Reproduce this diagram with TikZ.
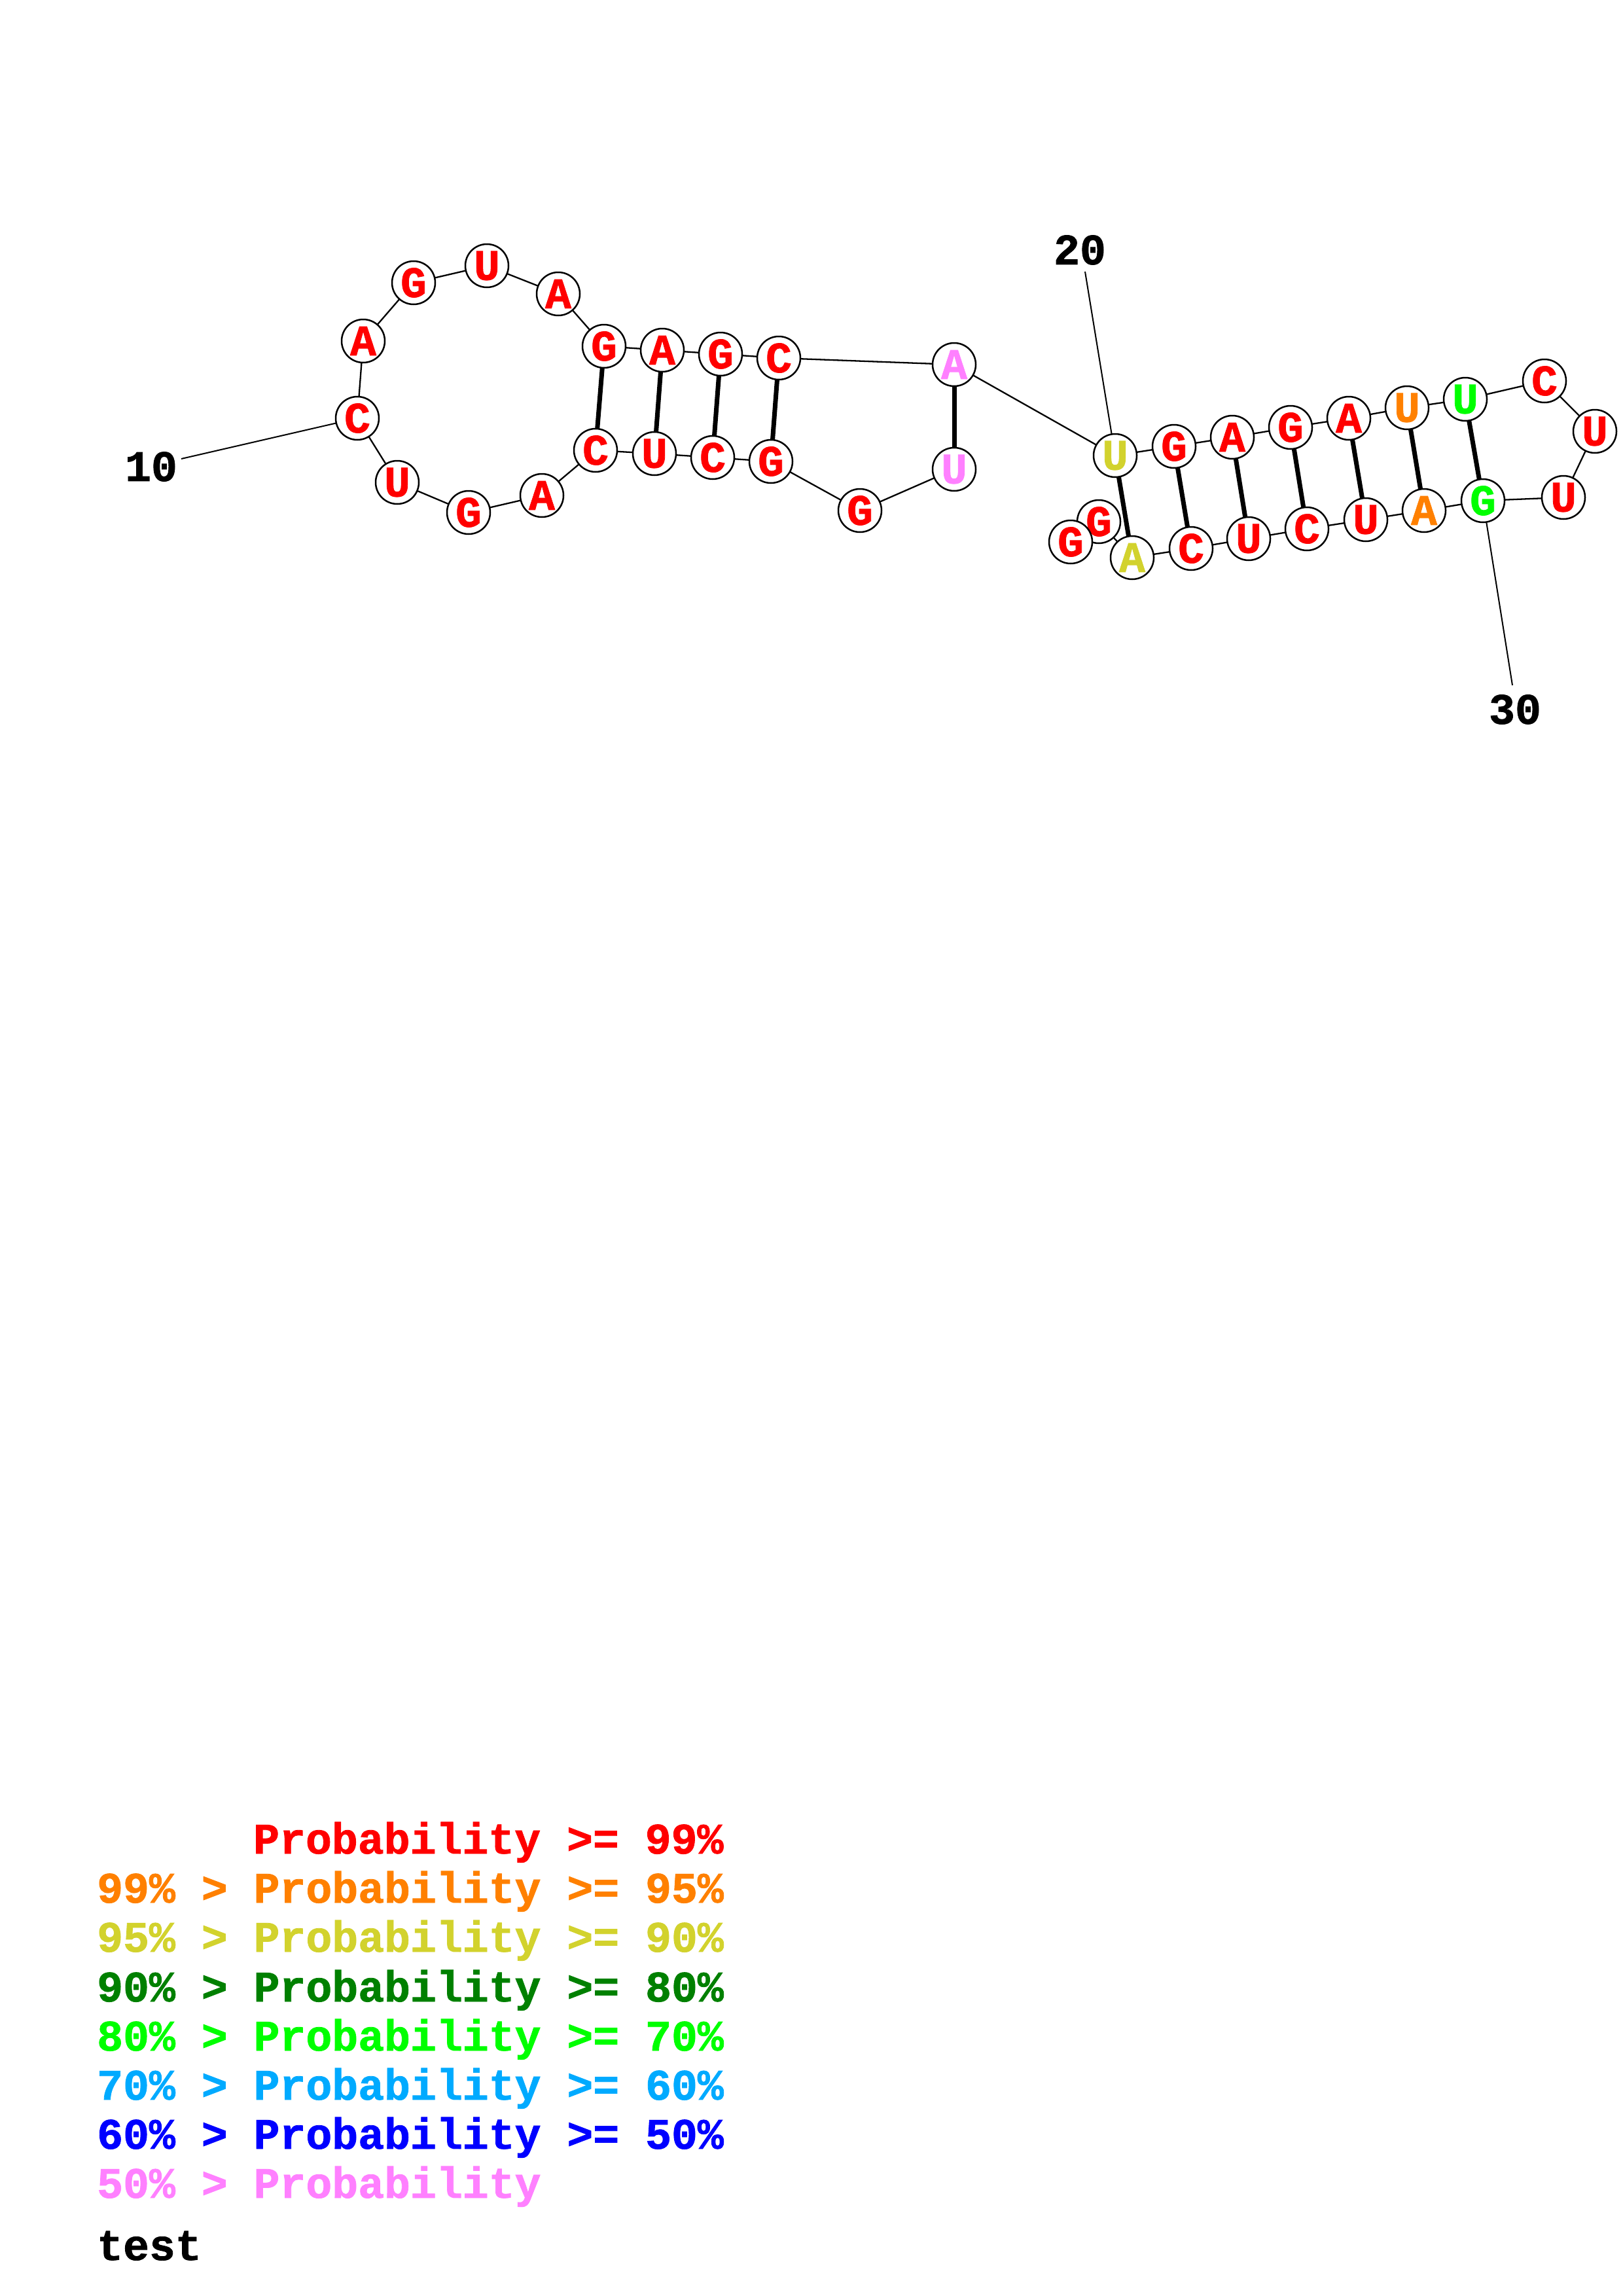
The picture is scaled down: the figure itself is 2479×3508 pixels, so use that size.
\documentclass[tikz,border=0pt]{standalone}
\usepackage{fontspec}
\setmonofont{Liberation Mono}[BoldFeatures={FakeBold=1.2}]
\usetikzlibrary{backgrounds}
\definecolor{pA}{RGB}{255,0,0}
\definecolor{pB}{RGB}{255,128,0}
\definecolor{pC}{RGB}{210,210,45}
\definecolor{pD}{RGB}{0,128,0}
\definecolor{pE}{RGB}{0,255,0}
\definecolor{pF}{RGB}{0,170,255}
\definecolor{pG}{RGB}{0,0,255}
\definecolor{pH}{RGB}{255,128,255}
\newcommand{\nucfont}{\ttfamily\bfseries\fontsize{66.5}{70}\selectfont}
\tikzset{
  nuc/.style={circle,draw=black,fill=white,line width=2.5pt,minimum size=66pt,inner sep=0pt,font=\nucfont,text=pA},
  bb/.style={line width=2.3pt,black},
  bp/.style={line width=7pt,black},
  lbl/.style={line width=2pt,black},
  numtxt/.style={font=\nucfont,text=black,inner sep=0pt},
  legend/.style={font=\nucfont,anchor=base west,inner sep=0pt}
}
\begin{document}
\begin{tikzpicture}[x=1pt,y=-1pt]
\useasboundingbox (0,0) rectangle (2479,3508);
% nucleotides
\node[nuc,text=pH] (n1) at (1458,717) {U};
\node[nuc] (n2) at (1314,780) {G};
\node[nuc] (n3) at (1178,705) {G};
\node[nuc] (n4) at (1089,699) {C};
\node[nuc] (n5) at (1000,693) {U};
\node[nuc] (n6) at (910,688) {C};
\node[nuc] (n7) at (828,757) {A};
\node[nuc] (n8) at (716,783) {G};
\node[nuc] (n9) at (607,737) {U};
\node[nuc] (n10) at (546,639) {C};
\node[nuc] (n11) at (555,521) {A};
\node[nuc] (n12) at (632,432) {G};
\node[nuc] (n13) at (744,406) {U};
\node[nuc] (n14) at (853,449) {A};
\node[nuc] (n15) at (923,529) {G};
\node[nuc] (n16) at (1012,535) {A};
\node[nuc] (n17) at (1101,541) {G};
\node[nuc] (n18) at (1190,547) {C};
\node[nuc,text=pH] (n19) at (1458,557) {A};
\node[nuc,text=pC] (n20) at (1704,696) {U};
\node[nuc] (n21) at (1794,682) {G};
\node[nuc] (n22) at (1883,668) {A};
\node[nuc] (n23) at (1972,653) {G};
\node[nuc] (n24) at (2061,639) {A};
\node[nuc,text=pB] (n25) at (2150,623) {U};
\node[nuc,text=pE] (n26) at (2239,610) {U};
\node[nuc] (n27) at (2360,582) {C};
\node[nuc] (n28) at (2437,659) {U};
\node[nuc] (n29) at (2389,760) {U};
\node[nuc,text=pE] (n30) at (2266,765) {G};
\node[nuc,text=pB] (n31) at (2176,780) {A};
\node[nuc] (n32) at (2087,794) {U};
\node[nuc] (n33) at (1997,808) {C};
\node[nuc] (n34) at (1908,823) {U};
\node[nuc] (n35) at (1820,838) {C};
\node[nuc,text=pC] (n36) at (1730,852) {A};
\node[nuc] (n37) at (1679,797) {G};
\node[nuc] (n38) at (1636,828) {G};
% number labels
\node[numtxt] (t10) at (231,713) {10};
\node[numtxt] (t20) at (1650,382) {20};
\node[numtxt] (t30) at (2315,1084) {30};
\coordinate (c10) at (277,701);
\coordinate (c20) at (1658,415);
\coordinate (c30) at (2311,1047);
\begin{pgfonlayer}{background}
  \foreach \i [evaluate=\i as \j using int(\i+1)] in {1,...,37}
    \draw[bb] (n\i.center) -- (n\j.center);
  \foreach \a/\b in {1/19,3/18,4/17,5/16,6/15,20/36,21/35,22/34,23/33,24/32,25/31,26/30}
    \draw[bp] (n\a.center) -- (n\b.center);
  \draw[lbl] (c10) -- (n10.center);
  \draw[lbl] (c20) -- (n20.center);
  \draw[lbl] (n30.center) -- (c30);
\end{pgfonlayer}
% legend
\node[legend,text=pA] (g1) at (387,2832) {Probability >= 99\%};
\node[legend,text=pB] (g2) at (148,2907) {99\% > Probability >= 95\%};
\node[legend,text=pC] (g3) at (148,2982) {95\% > Probability >= 90\%};
\node[legend,text=pD] (g4) at (148,3058) {90\% > Probability >= 80\%};
\node[legend,text=pE] (g5) at (148,3133) {80\% > Probability >= 70\%};
\node[legend,text=pF] (g6) at (148,3208) {70\% > Probability >= 60\%};
\node[legend,text=pG] (g7) at (148,3283) {60\% > Probability >= 50\%};
\node[legend,text=pH] (g8) at (148,3358) {50\% > Probability};
\node[legend,text=black] (g9) at (148,3453) {test};
\end{tikzpicture}
\end{document}
